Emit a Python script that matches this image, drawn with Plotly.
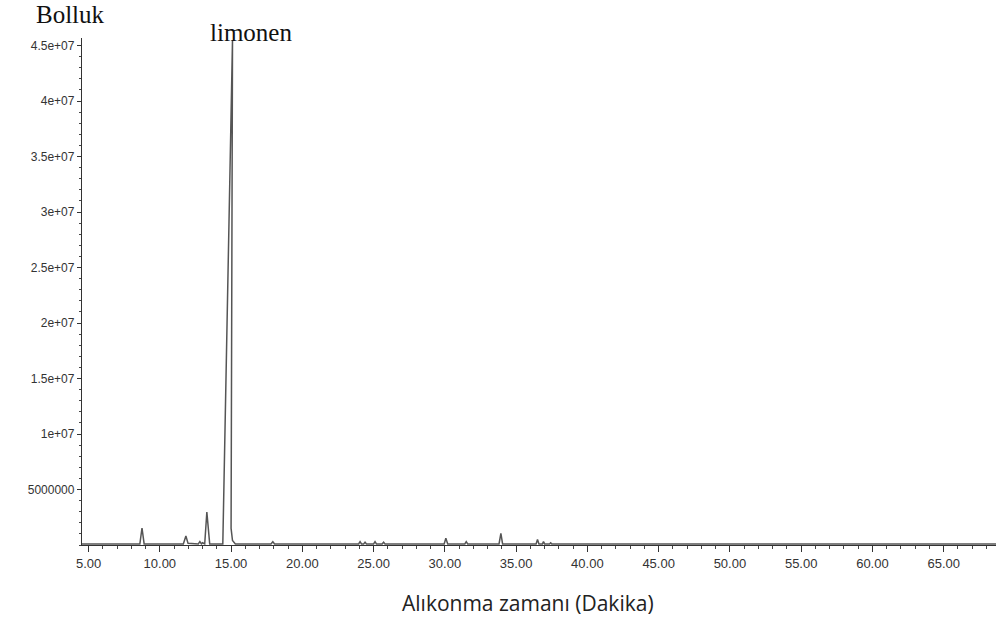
import plotly.graph_objects as go

# Retention time (min) and abundance
retention_time = [4.54, 8.60, 8.75, 8.90, 11.65, 11.83, 11.98, 12.70, 12.81, 12.92,
                  13.00, 13.15, 13.30, 13.50, 14.42, 15.10, 15.00, 15.10, 15.30,
                  17.80, 17.93, 18.05, 23.95, 24.05, 24.15, 24.30, 24.40, 24.50,
                  25.00, 25.10, 25.20, 25.60, 25.70, 25.80, 29.95, 30.07, 30.20,
                  31.40, 31.50, 31.60, 33.80, 33.93, 34.05, 36.40, 36.50, 36.60,
                  36.85, 36.92, 37.00, 37.35, 37.42, 37.50, 68.70]
abundance = [1.0e5, 1.0e5, 1.53e6, 1.0e5, 1.0e5, 8.1e5, 1.5e5, 1.0e5, 3.0e5, 1.0e5,
             2.0e5, 1.0e5, 2.97e6, 1.0e5, 1.0e5, 4.55e7, 1.5e6, 4.0e5, 1.0e5,
             1.0e5, 3.0e5, 1.0e5, 1.0e5, 3.0e5, 1.0e5, 1.0e5, 2.5e5, 1.0e5,
             1.0e5, 3.0e5, 1.0e5, 1.0e5, 2.5e5, 1.0e5, 1.0e5, 6.0e5, 1.0e5,
             1.0e5, 3.0e5, 1.0e5, 1.0e5, 1.05e6, 1.0e5, 1.0e5, 5.0e5, 1.0e5,
             1.0e5, 3.0e5, 1.0e5, 1.0e5, 2.0e5, 1.0e5, 1.0e5]

x_tick_vals = [5, 10, 15, 20, 25, 30, 35, 40, 45, 50, 55, 60, 65]
y_tick_vals = [5e6, 1e7, 1.5e7, 2e7, 2.5e7, 3e7, 3.5e7, 4e7, 4.5e7]
y_tick_text = ["5000000", "1e+07", "1.5e+07", "2e+07", "2.5e+07",
               "3e+07", "3.5e+07", "4e+07", "4.5e+07"]

fig = go.Figure()
fig.add_trace(go.Scatter(
    x=retention_time, y=abundance, mode="lines",
    line=dict(color="#555555", width=1.5), hoverinfo="x+y", showlegend=False))

fig.update_layout(
    width=996, height=623,
    margin=dict(l=82, r=0, t=38, b=78),
    paper_bgcolor="white", plot_bgcolor="white",
    font=dict(family="Liberation Sans, Arial, sans-serif", color="#333333"),
    xaxis=dict(
        range=[4.54, 68.67], tickvals=x_tick_vals, tickformat=".2f", automargin=False,
        showgrid=False, zeroline=False, showline=True, linecolor="#333333", linewidth=1.3,
        ticks="outside", ticklen=6, tickcolor="#333333", tickwidth=1,
        tickfont=dict(size=13, color="#333333"),
        minor=dict(dtick=1, ticks="outside", ticklen=3, tickcolor="#444444", tickwidth=1),
    ),
    yaxis=dict(
        range=[0, 4.568e7], tickvals=y_tick_vals, ticktext=y_tick_text, automargin=False,
        showgrid=False, zeroline=False, showline=True, linecolor="#333333", linewidth=1.3,
        ticks="outside", ticklen=4, tickcolor="#333333", tickwidth=1,
        tickfont=dict(size=12, color="#333333"),
        minor=dict(dtick=1e6, ticks="outside", ticklen=2, tickcolor="#444444", tickwidth=1),
    ),
    annotations=[
        dict(text="Bolluk", xref="paper", yref="paper", x=-0.013, y=1.047,
             xanchor="center", yanchor="middle", showarrow=False,
             font=dict(family="Liberation Serif, Times New Roman, serif", size=25, color="#111111")),
        dict(text="limonen", xref="paper", yref="paper", x=0.185, y=1.01,
             xanchor="center", yanchor="middle", showarrow=False,
             font=dict(family="Liberation Serif, Times New Roman, serif", size=25, color="#111111")),
        dict(text="Alıkonma zamanı (Dakika)", xref="paper", yref="paper", x=0.488, y=-0.114,
             xanchor="center", yanchor="middle", showarrow=False,
             font=dict(family="Open Sans, sans-serif", size=21, color="#222222")),
    ],
)

fig.write_html("out.html", config={"displayModeBar": False},
               post_script="document.body.style.margin='0';document.body.style.overflow='hidden';")
